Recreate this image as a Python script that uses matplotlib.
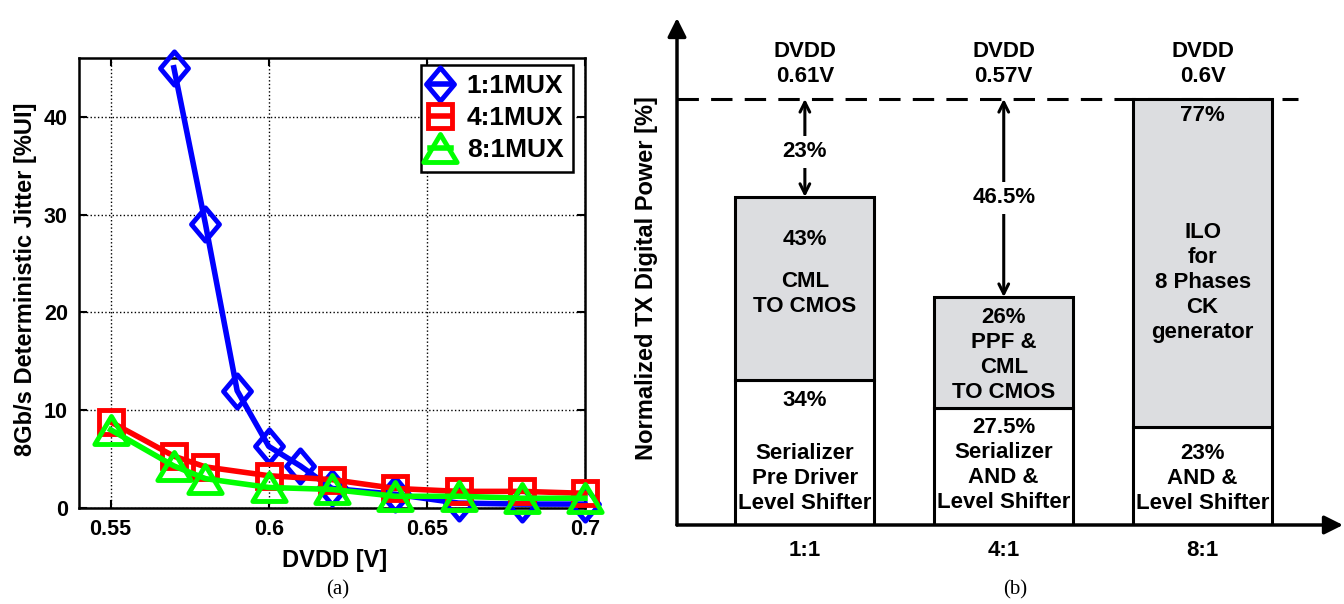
import numpy as np
import matplotlib
matplotlib.use('Agg')
from matplotlib import pyplot as plt
from matplotlib.path import Path

plt.rcParams['font.family'] = ['Liberation Sans', 'DejaVu Sans']
plt.rcParams['font.weight'] = 'bold'

# (a) jitter vs supply
dvdd_11 = [0.57, 0.58, 0.59, 0.60, 0.61, 0.62, 0.64, 0.66, 0.68, 0.70]
jit_11 = [45.0, 29.0, 12.0, 6.3, 4.3, 2.0, 1.4, 0.5, 0.4, 0.4]
dvdd_41 = [0.55, 0.57, 0.58, 0.60, 0.62, 0.64, 0.66, 0.68, 0.70]
jit_41 = [8.8, 5.3, 4.2, 3.3, 2.9, 2.0, 1.7, 1.7, 1.5]
dvdd_81 = [0.55, 0.57, 0.58, 0.60, 0.62, 0.64, 0.66, 0.68, 0.70]
jit_81 = [8.0, 4.3, 3.0, 2.1, 1.9, 1.2, 1.2, 1.0, 1.0]
series_names = ['1:1MUX', '4:1MUX', '8:1MUX']

# (b) power breakdown
mux_labels = ['1:1', '4:1', '8:1']
low_pct = [34, 27.5, 23]
high_pct = [43, 26, 77]
dvdd_opt = ['0.61V', '0.57V', '0.6V']
low_text = ['Serializer\nPre Driver\nLevel Shifter',
            'Serializer\nAND &\nLevel Shifter',
            'AND &\nLevel Shifter']

fig = plt.figure(figsize=(13.44, 6.04), dpi=100)

# ---------- left plot ----------
ax = fig.add_axes([79/1344, 1-508/604, (585-79)/1344, (508-58)/604])

diamond = Path([(0, 0.5), (0.42, 0), (0, -0.5), (-0.42, 0), (0, 0.5)],
               [Path.MOVETO, Path.LINETO, Path.LINETO, Path.LINETO, Path.CLOSEPOLY])
tri = Path([(0, 0.42), (0.5, -0.42), (-0.5, -0.42), (0, 0.42)],
           [Path.MOVETO, Path.LINETO, Path.LINETO, Path.CLOSEPOLY])

kw = dict(lw=4, mew=3.5, mfc='none', clip_on=False, zorder=3)
ax.plot(dvdd_11, jit_11, color='#0000ff', marker=diamond, ms=24, label=series_names[0], **kw)
ax.plot(dvdd_41, jit_41, color='#ff0000', marker='s', ms=17, label=series_names[1], **kw)
ax.plot(dvdd_81, jit_81, color='#00ff00', marker=tri, ms=24, label=series_names[2], **kw)

ax.set_xlim(0.54, 0.70)
ax.set_ylim(0, 46)
ax.set_xticks([0.55, 0.6, 0.65, 0.7])
ax.set_xticklabels(['0.55', '0.6', '0.65', '0.7'])
ax.set_yticks([0, 10, 20, 30, 40])
ax.tick_params(direction='in', length=6, width=1.5, labelsize=15.5, top=True, right=True, pad=8)
for lab in ax.get_xticklabels() + ax.get_yticklabels():
    lab.set_fontweight('bold')
for s in ax.spines.values():
    s.set_linewidth(1.8)
ax.grid(True, ls=':', color='black', lw=1)
leg = ax.legend(loc='upper right', bbox_to_anchor=(0.976, 0.984), borderaxespad=0,
                fancybox=False, edgecolor='black', framealpha=1, handlelength=0.8,
                labelspacing=0.3, handletextpad=0.6, borderpad=0.35,
                prop={'weight': 'bold', 'size': 19})
leg.get_frame().set_linewidth(1.8)

fig.text(26/1344, 1-279/604, '8Gb/s Deterministic Jitter [%UI]', rotation=90,
         ha='center', va='center', fontsize=17, fontweight='bold')
fig.text(335/1344, 1-560/604, 'DVDD [V]', ha='center', va='center', fontsize=17, fontweight='bold')

# ---------- right plot ----------
ax2 = fig.add_axes([677/1344, 1-525/604, (1343-677)/1344, (525-18)/604])
ax2.set_xlim(-0.643, 2.706)
ax2.set_ylim(0, 119)
for s in ax2.spines.values():
    s.set_visible(False)
ax2.set_yticks([])
x = np.arange(len(mux_labels))
ax2.set_xticks(x)
ax2.set_xticklabels(mux_labels)
ax2.tick_params(axis='x', length=0, pad=11, labelsize=16)
for lab in ax2.get_xticklabels():
    lab.set_fontweight('bold')

w = 0.70
ax2.bar(x, low_pct, width=w, color='white', edgecolor='black', lw=2.2, zorder=2)
ax2.bar(x, high_pct, bottom=low_pct, width=w, color='#dcdde0', edgecolor='black', lw=2.2, zorder=2)

# axis arrows
ax2.annotate('', xy=(0, 1), xytext=(0, 0), xycoords='axes fraction',
             arrowprops=dict(arrowstyle='-|>', lw=2.5, color='black', mutation_scale=28,
                             shrinkA=0, shrinkB=0), annotation_clip=False)
ax2.annotate('', xy=(1, 0), xytext=(0, 0), xycoords='axes fraction',
             arrowprops=dict(arrowstyle='-|>', lw=2.5, color='black', mutation_scale=28,
                             shrinkA=0, shrinkB=0), annotation_clip=False)
ax2.axhline(100, xmin=0, xmax=0.932, color='black', lw=2.2, ls=(0, (7, 4)), zorder=1)

tkw = dict(ha='center', va='center', fontsize=16, fontweight='bold', linespacing=1.25, zorder=4)
for i in range(3):
    ax2.text(x[i], 108.1, 'DVDD\n' + dvdd_opt[i], **tkw)

# gap arrows
tops = [low_pct[i] + high_pct[i] for i in range(3)]
gap_y = [87.6, 76.8]
for i in range(2):
    ax2.annotate('', xy=(x[i], tops[i]), xytext=(x[i], 100),
                 arrowprops=dict(arrowstyle='<->,head_length=0.7,head_width=0.35',
                                 lw=2.2, color='black', shrinkA=0, shrinkB=0), zorder=3)
    ax2.text(x[i], gap_y[i], f'{100 - tops[i]:g}%',
             bbox=dict(facecolor='white', edgecolor='none', pad=4), **tkw)

# texts in bars
ax2.text(x[0], 66.9, f'{high_pct[0]:g}%', **tkw)
ax2.text(x[0], 54.2, 'CML\nTO CMOS', **tkw)
ax2.text(x[0], 29.3, f'{low_pct[0]:g}%', **tkw)
ax2.text(x[0], 11.0, low_text[0], **tkw)
ax2.text(x[1], 40.0, f'{high_pct[1]:g}%\nPPF &\nCML\nTO CMOS', **tkw)
ax2.text(x[1], 14.0, f'{low_pct[1]:g}%\n' + low_text[1], **tkw)
ax2.text(x[2], 96.2, f'{high_pct[2]:g}%', **tkw)
ax2.text(x[2], 57.0, 'ILO\nfor\n8 Phases\nCK\ngenerator', **tkw)
ax2.text(x[2], 11.0, f'{low_pct[2]:g}%\n' + low_text[2], **tkw)

fig.text(647/1344, 1-278/604, 'Normalized TX Digital Power [%]', rotation=90,
         ha='center', va='center', fontsize=17, fontweight='bold')

fig.text(338/1344, 1-590/604, '(a)', ha='center', va='center', fontsize=15,
         family='Liberation Serif', fontweight='normal')
fig.text(1015/1344, 1-590/604, '(b)', ha='center', va='center', fontsize=15,
         family='Liberation Serif', fontweight='normal')

fig.savefig('out.png', dpi=100)
